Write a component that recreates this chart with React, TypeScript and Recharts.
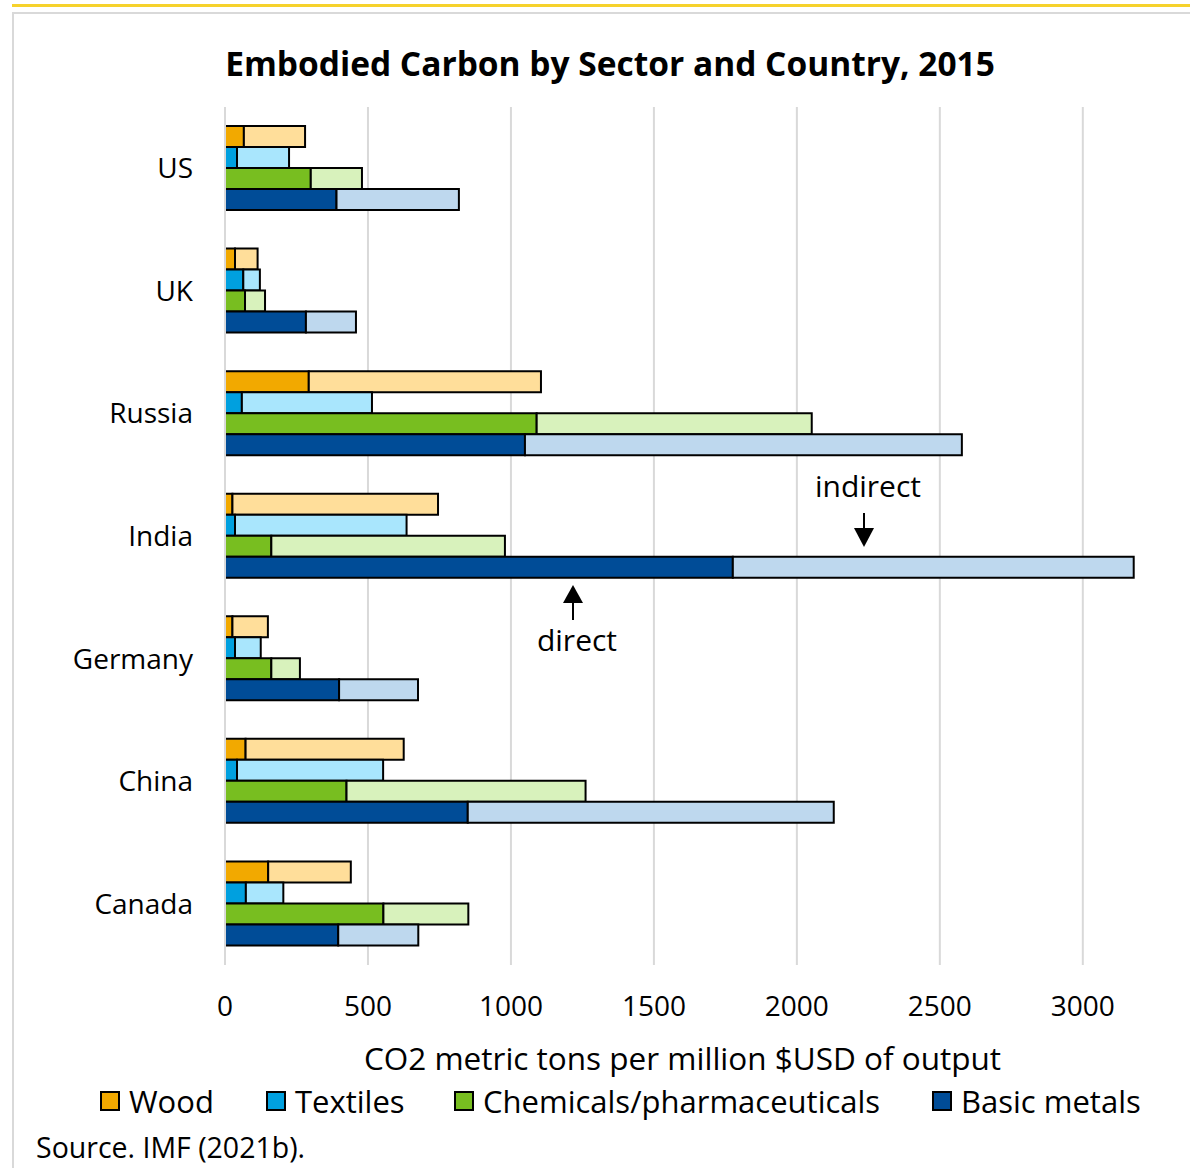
import React from 'react';
import { BarChart, Bar, XAxis, YAxis, CartesianGrid } from 'recharts';

const countries = ['US', 'UK', 'Russia', 'India', 'Germany', 'China', 'Canada'];

// direct / indirect emissions per sector
const woodDirect = [66, 35, 293, 26, 26, 72, 151];
const woodIndirect = [214, 79, 812, 719, 124, 553, 289];
const textilesDirect = [42, 64, 59, 35, 35, 42, 73];
const textilesIndirect = [182, 58, 455, 600, 90, 511, 131];
const chemDirect = [300, 70, 1090, 162, 162, 425, 554];
const chemIndirect = [179, 70, 962, 817, 100, 836, 297];
const metalsDirect = [390, 283, 1049, 1776, 399, 849, 396];
const metalsIndirect = [428, 175, 1528, 1402, 276, 1280, 280];

const xTicks = [0, 500, 1000, 1500, 2000, 2500, 3000];

const sectors = [
  { name: 'Wood', key: 'wood', dark: '#f2a900', light: '#ffde9a', left: 100 },
  { name: 'Textiles', key: 'textiles', dark: '#00a0df', light: '#a9e6fd', left: 266 },
  { name: 'Chemicals/pharmaceuticals', key: 'chem', dark: '#78be20', light: '#d8f2bc', left: 454 },
  { name: 'Basic metals', key: 'metals', dark: '#004c97', light: '#bed8ee', left: 932 },
];

const data = countries.map((c, i) => ({
  country: c,
  woodDirect: woodDirect[i],
  woodIndirect: woodIndirect[i],
  textilesDirect: textilesDirect[i],
  textilesIndirect: textilesIndirect[i],
  chemDirect: chemDirect[i],
  chemIndirect: chemIndirect[i],
  metalsDirect: metalsDirect[i],
  metalsIndirect: metalsIndirect[i],
}));

const FONT = '"Open Sans", "Noto Sans", sans-serif';

const App: React.FC = () => {
  return (
    <div
      style={{
        position: 'absolute',
        left: 0,
        top: 0,
        width: 1190,
        height: 1168,
        background: '#fff',
        fontFamily: FONT,
        overflow: 'hidden',
      }}
    >
      {/* yellow rule and panel frame */}
      <div style={{ position: 'absolute', left: 12, top: 4, width: 1178, height: 3, background: '#f6d22c' }} />
      <div
        style={{
          position: 'absolute',
          left: 12,
          top: 12,
          width: 1200,
          height: 1200,
          border: '2px solid #d9d9d9',
          boxSizing: 'border-box',
        }}
      />

      <div
        style={{
          position: 'absolute',
          left: 0,
          top: 41,
          width: 1220,
          textAlign: 'center',
          fontSize: 33.5,
          fontWeight: 700,
          color: '#000',
          lineHeight: '44px',
        }}
      >
        Embodied Carbon by Sector and Country, 2015
      </div>

      <div style={{ position: 'absolute', left: 0, top: 0 }}>
        <BarChart
          width={1190}
          height={1168}
          data={data}
          layout="vertical"
          margin={{ top: 107, right: 50, bottom: 143, left: 0 }}
          barGap={0}
          barSize={21}
        >
          <CartesianGrid horizontal={false} syncWithTicks stroke="#d9d9d9" strokeWidth={2} />
          <XAxis
            type="number"
            domain={[0, 3200]}
            ticks={xTicks}
            height={60}
            axisLine={false}
            tickLine={false}
            tickSize={0}
            tickMargin={31}
            tick={{ fill: '#000', fontSize: 28, fontFamily: FONT }}
          />
          <YAxis
            type="category"
            dataKey="country"
            width={225}
            axisLine={{ stroke: '#d9d9d9', strokeWidth: 2 }}
            tickLine={false}
            tickSize={0}
            tickMargin={32}
            tick={{ fill: '#000', fontSize: 28, fontFamily: FONT }}
          />
          {sectors.map((s) => [
            <Bar
              key={s.key + 'd'}
              dataKey={s.key + 'Direct'}
              stackId={s.key}
              fill={s.dark}
              stroke="#000"
              strokeWidth={2}
              isAnimationActive={false}
            />,
            <Bar
              key={s.key + 'i'}
              dataKey={s.key + 'Indirect'}
              stackId={s.key}
              fill={s.light}
              stroke="#000"
              strokeWidth={2}
              isAnimationActive={false}
            />,
          ])}
        </BarChart>
      </div>

      {/* annotations */}
      <svg style={{ position: 'absolute', left: 0, top: 0 }} width={1190} height={1168}>
        <text x={868} y={497} textAnchor="middle" fontSize={30} fontFamily={FONT} fill="#000">
          indirect
        </text>
        <line x1={864} y1={513} x2={864} y2={530} stroke="#000" strokeWidth={2} />
        <polygon points="854,528 874,528 864,547" fill="#000" />
        <text x={577} y={651} textAnchor="middle" fontSize={30} fontFamily={FONT} fill="#000">
          direct
        </text>
        <line x1={573} y1={601} x2={573} y2={620} stroke="#000" strokeWidth={2} />
        <polygon points="563,603 583,603 573,585" fill="#000" />
      </svg>

      <div
        style={{
          position: 'absolute',
          left: 225,
          width: 915,
          top: 1040,
          textAlign: 'center',
          fontSize: 31.5,
          lineHeight: '36px',
          color: '#000',
        }}
      >
        CO2 metric tons per million $USD of output
      </div>

      {sectors.map((s) => (
        <div
          key={s.key}
          style={{
            position: 'absolute',
            left: s.left,
            top: 1083,
            display: 'flex',
            alignItems: 'center',
            gap: 9,
            fontSize: 31,
            lineHeight: '36px',
            color: '#000',
            whiteSpace: 'nowrap',
          }}
        >
          <div
            style={{
              width: 20,
              height: 20,
              background: s.dark,
              border: '2px solid #000',
              boxSizing: 'border-box',
            }}
          />
          <span>{s.name}</span>
        </div>
      ))}

      <div
        style={{
          position: 'absolute',
          left: 36,
          top: 1129,
          fontSize: 28.5,
          lineHeight: '36px',
          color: '#000',
        }}
      >
        Source. IMF (2021b).
      </div>
    </div>
  );
};

export default App;
